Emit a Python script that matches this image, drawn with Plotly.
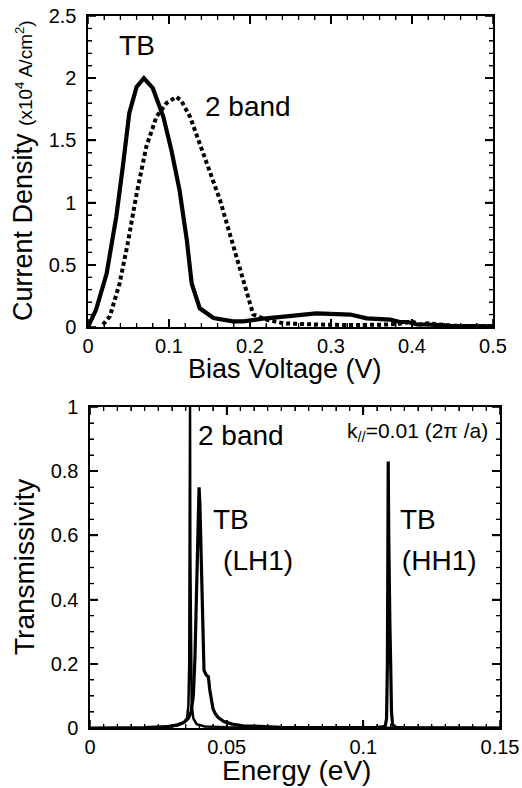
import numpy as np
import plotly.graph_objects as go

# ---------------- data: top panel (I-V) ----------------
bias_tb = [0.0, 0.010, 0.023, 0.035, 0.043, 0.051, 0.060, 0.069, 0.080, 0.093, 0.103,
           0.113, 0.122, 0.128, 0.138, 0.155, 0.179, 0.192, 0.220, 0.262, 0.282, 0.324,
           0.344, 0.373, 0.385, 0.395, 0.406, 0.420, 0.447, 0.500]
cur_tb = [0.0, 0.14, 0.43, 0.89, 1.29, 1.72, 1.93, 2.00, 1.92, 1.69, 1.42,
          1.10, 0.70, 0.35, 0.15, 0.072, 0.045, 0.045, 0.07, 0.10, 0.11, 0.10,
          0.07, 0.06, 0.04, 0.04, 0.02, 0.02, 0.01, 0.005]

bias_2b = [0.0185, 0.027, 0.039, 0.049, 0.060, 0.072, 0.0845, 0.097, 0.109, 0.115,
           0.126, 0.138, 0.150, 0.163, 0.175, 0.1875, 0.198, 0.204, 0.220, 0.241,
           0.280, 0.330, 0.370, 0.390, 0.400, 0.410, 0.420, 0.450, 0.500]
cur_2b = [0.02, 0.086, 0.35, 0.67, 1.07, 1.45, 1.69, 1.80, 1.85, 1.82,
          1.69, 1.48, 1.26, 1.02, 0.75, 0.46, 0.22, 0.10, 0.06, 0.03,
          0.02, 0.015, 0.02, 0.03, 0.045, 0.02, 0.03, 0.01, 0.005]

# ---------------- data: bottom panel (transmissivity) ----------------
en_2b = [0.020, 0.028, 0.032, 0.034, 0.0355, 0.036, 0.0363, 0.0365, 0.0366, 0.0367,
         0.0369, 0.0372, 0.0378, 0.039, 0.042, 0.050, 0.080, 0.150]
tr_2b = [0.0, 0.003, 0.008, 0.015, 0.03, 0.07, 0.2, 0.55, 1.0, 0.55,
         0.2, 0.07, 0.03, 0.012, 0.005, 0.002, 0.001, 0.0]

en_tb = [0.0, 0.020, 0.028, 0.032, 0.0345, 0.036, 0.037, 0.0378, 0.0384, 0.0389,
         0.0393, 0.0397, 0.0399, 0.0402, 0.0405, 0.0408, 0.0412, 0.0417, 0.0425, 0.0433,
         0.0438, 0.0443, 0.0450, 0.0458, 0.0470, 0.0490, 0.0520, 0.0560, 0.0620, 0.0700,
         0.0900, 0.1000, 0.1050, 0.1070, 0.1080, 0.1085, 0.1088, 0.1090, 0.1091, 0.1093,
         0.1095, 0.1097, 0.1100, 0.1103, 0.1107, 0.1120, 0.1150, 0.1500]
tr_tb = [0.0, 0.001, 0.004, 0.01, 0.018, 0.03, 0.05, 0.10, 0.22, 0.43,
         0.62, 0.74, 0.75, 0.70, 0.58, 0.43, 0.28, 0.18, 0.165, 0.16,
         0.12, 0.09, 0.06, 0.045, 0.032, 0.02, 0.012, 0.007, 0.004, 0.002,
         0.001, 0.001, 0.002, 0.004, 0.005, 0.03, 0.2, 0.6, 0.83, 0.6,
         0.4, 0.33, 0.2, 0.05, 0.01, 0.002, 0.001, 0.0]

# in-plot labels
top_labels = ["TB", "2 band"]
top_lab_x = [0.0605, 0.1444]
top_lab_y = [2.24, 1.75]
top_lab_pos = ["middle center", "middle right"]
bot_labels = ["2 band", "TB", "(LH1)", "TB", "(HH1)"]
bot_lab_x = [0.0395, 0.045, 0.0487, 0.1134, 0.1141]
bot_lab_y = [0.903, 0.642, 0.514, 0.642, 0.514]

FONT = "Liberation Sans, Arial, Helvetica, sans-serif"
W, H = 522, 788

# panel frames in page pixels: (left, right, top, bottom)
TOP_BOX = (88, 493, 16, 327)
BOT_BOX = (90, 500, 407, 728)
TOP_X = dict(rng=(0, 0.5), dtick=0.1, minor=0.02)
TOP_Y = dict(rng=(0, 2.5), dtick=0.5, minor=0.1)
BOT_X = dict(rng=(0, 0.15), dtick=0.05, minor=0.005)
BOT_Y = dict(rng=(0, 1.0), dtick=0.2, minor=0.05)
MAJOR_LEN, MINOR_LEN = 8, 4


def px_x(p):
    return p / W


def px_y(p):
    return 1 - p / H


def tick_values(spec, major):
    lo, hi = spec["rng"]
    step = spec["dtick"] if major else spec["minor"]
    vals = np.round(np.arange(lo, hi + step / 2, step), 6)
    if not major:
        ratio = spec["dtick"] / spec["minor"]
        idx = np.arange(len(vals))
        vals = vals[np.mod(idx, int(round(ratio))) != 0]
    return vals


def tick_segments(xspec, yspec, box, major):
    """Inside tick marks on all four sides, computed from the axis ranges."""
    L = MAJOR_LEN if major else MINOR_LEN
    (x0, x1), (y0, y1) = xspec["rng"], yspec["rng"]
    wpx, hpx = box[1] - box[0], box[3] - box[2]
    dx = L * (x1 - x0) / wpx
    dy = L * (y1 - y0) / hpx
    xs, ys = [], []
    for t in tick_values(xspec, major):
        xs += [t, t, None, t, t, None]
        ys += [y0, y0 + dy, None, y1, y1 - dy, None]
    for v in tick_values(yspec, major):
        xs += [x0, x0 + dx, None, x1, x1 - dx, None]
        ys += [v, v, None, v, v, None]
    return xs, ys


fig = go.Figure()
fig.add_trace(go.Scatter(x=bias_tb, y=cur_tb, mode="lines",
                         line=dict(color="black", width=4.2), xaxis="x", yaxis="y"))
fig.add_trace(go.Scatter(x=bias_2b, y=cur_2b, mode="lines",
                         line=dict(color="black", width=4, dash="4px,3px"), xaxis="x", yaxis="y"))
fig.add_trace(go.Scatter(x=en_2b, y=tr_2b, mode="lines",
                         line=dict(color="black", width=2.5), xaxis="x2", yaxis="y2"))
fig.add_trace(go.Scatter(x=en_tb, y=tr_tb, mode="lines",
                         line=dict(color="black", width=3.2), xaxis="x2", yaxis="y2"))

# tick marks (inside, mirrored) for both panels
for xs_spec, ys_spec, box, xa, ya in [(TOP_X, TOP_Y, TOP_BOX, "x", "y"),
                                      (BOT_X, BOT_Y, BOT_BOX, "x2", "y2")]:
    for major, w in [(True, 1.6), (False, 1.3)]:
        tx, ty = tick_segments(xs_spec, ys_spec, box, major)
        fig.add_trace(go.Scatter(x=tx, y=ty, mode="lines", connectgaps=False,
                                 line=dict(color="black", width=w),
                                 xaxis=xa, yaxis=ya, hoverinfo="skip"))

fig.add_trace(go.Scatter(x=top_lab_x, y=top_lab_y, text=top_labels, mode="text",
                         textposition=top_lab_pos, cliponaxis=False,
                         textfont=dict(family=FONT, size=28, color="black"),
                         xaxis="x", yaxis="y", hoverinfo="skip"))
fig.add_trace(go.Scatter(x=bot_lab_x, y=bot_lab_y, text=bot_labels, mode="text",
                         textposition="middle right", cliponaxis=False,
                         textfont=dict(family=FONT, size=28, color="black"),
                         xaxis="x2", yaxis="y2", hoverinfo="skip"))


def axis(box_lo, box_hi, spec, anchor, horizontal, suffix=""):
    dom = [px_x(box_lo), px_x(box_hi)] if horizontal else [px_y(box_hi), px_y(box_lo)]
    return dict(domain=dom, range=list(spec["rng"]), dtick=spec["dtick"], anchor=anchor,
                tickmode="linear", tick0=0, ticksuffix=suffix,
                showline=True, linecolor="black", linewidth=2, mirror="allticks",
                ticks="inside", ticklen=MAJOR_LEN, tickwidth=1.6, tickcolor="black",
                minor=dict(dtick=spec["minor"], tick0=0, ticks="inside", ticklen=MINOR_LEN,
                           tickcolor="black", tickwidth=1.3),
                showgrid=False, zeroline=False, automargin=False,
                tickfont=dict(family=FONT, size=20, color="black"))


fig.update_layout(
    width=W, height=H, margin=dict(l=0, r=0, t=0, b=0, autoexpand=False),
    paper_bgcolor="white", plot_bgcolor="white", showlegend=False,
    xaxis=axis(TOP_BOX[0], TOP_BOX[1], TOP_X, "y", True),
    yaxis=axis(TOP_BOX[2], TOP_BOX[3], TOP_Y, "x", False, "\u00a0"),
    xaxis2=axis(BOT_BOX[0], BOT_BOX[1], BOT_X, "y2", True),
    yaxis2=axis(BOT_BOX[2], BOT_BOX[3], BOT_Y, "x2", False, "\u00a0"),
)

ann = []


def A(text, x, y, size, xref="paper", yref="paper", xanchor="center", yanchor="middle", angle=0):
    ann.append(dict(text=text, x=x, y=y, xref=xref, yref=yref, xanchor=xanchor,
                    yanchor=yanchor, showarrow=False, textangle=angle,
                    font=dict(family=FONT, size=size, color="black")))


# axis titles and the k-parallel note
A("Current Density <span style='font-size:19px'>(x10<sup>4</sup> A/cm<sup>2</sup>)</span>",
  px_x(23), px_y(171), 27, angle=-90)
A("Bias Voltage (V)", px_x(285), px_y(369), 27)
A("Transmissivity", px_x(24), px_y(567), 28, angle=-90)
A("Energy (eV)", px_x(296), px_y(770), 28)
A("k<sub>//</sub>=0.01 (2π /a)", 0.1463, 0.922, 21, xref="x2", yref="y2", xanchor="right")

fig.update_layout(annotations=ann)
fig.write_html("out.html", config={"displayModeBar": False},
               post_script="document.body.style.margin='0';document.body.style.overflow='hidden';")
